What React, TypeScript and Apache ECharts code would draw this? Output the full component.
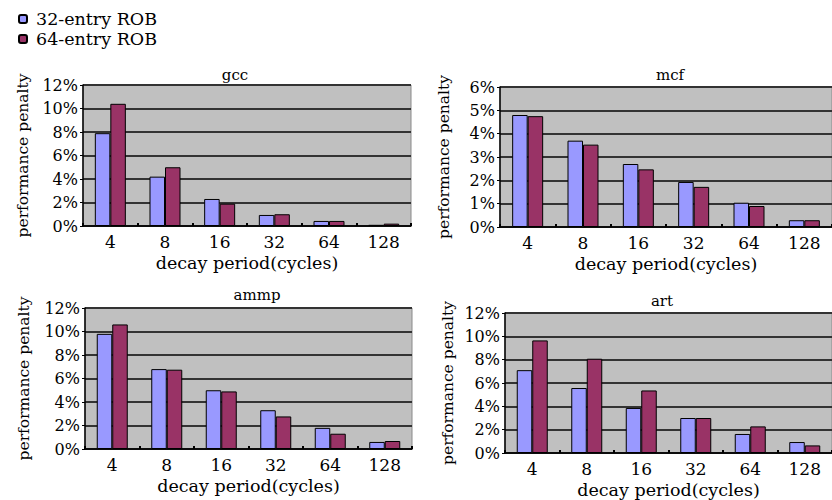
import React, { useEffect, useRef } from "react";
import * as echarts from "echarts";

const categories = ["4", "8", "16", "32", "64", "128"];
const seriesNames = ["32-entry ROB", "64-entry ROB"];
const titles = ["gcc", "mcf", "ammp", "art"];
const gcc32 = [7.9, 4.2, 2.3, 0.94, 0.43, 0.1];
const gcc64 = [10.4, 5.0, 1.9, 1.0, 0.43, 0.2];
const mcf32 = [4.8, 3.7, 2.7, 1.93, 1.04, 0.29];
const mcf64 = [4.75, 3.53, 2.47, 1.72, 0.9, 0.29];
const ammp32 = [9.8, 6.8, 5.0, 3.3, 1.8, 0.6];
const ammp64 = [10.6, 6.75, 4.9, 2.77, 1.3, 0.68];
const art32 = [7.1, 5.57, 3.86, 3.0, 1.63, 0.94];
const art64 = [9.65, 8.08, 5.36, 3.0, 2.28, 0.65];
const yMax = [12, 6, 12, 12];
const yStep = [2, 1, 2, 2];

const FONT = "DejaVu Serif";

export default function App() {
  const ref = useRef<HTMLDivElement>(null);
  useEffect(() => {
    if (!ref.current) return;
    const chart = echarts.init(ref.current, undefined, { renderer: "svg" });
    const grids = [
      { left: 83, top: 85, width: 328, height: 141 },
      { left: 500, top: 87, width: 340, height: 140 },
      { left: 85, top: 308, width: 327, height: 141 },
      { left: 505, top: 313, width: 332, height: 140 },
    ];
    const nameGaps = [52, 48, 53, 49];
    const titlePos = [
      [235, 75],
      [670, 75],
      [257, 295],
      [662, 301],
    ];
    const data32 = [gcc32, mcf32, ammp32, art32];
    const data64 = [gcc64, mcf64, ammp64, art64];
    const colors = ["#9999ff", "#993366"];

    const series: any[] = [];
    for (let i = 0; i < 4; i++) {
      [data32[i], data64[i]].forEach((d, k) => {
        series.push({
          type: "bar",
          name: seriesNames[k],
          xAxisIndex: i,
          yAxisIndex: i,
          data: d,
          barWidth: 15.5,
          barGap: "0%",
          itemStyle: { color: colors[k], borderColor: "#000", borderWidth: 1 },
        });
      });
    }

    chart.setOption({
      animation: false,
      backgroundColor: "#ffffff",
      textStyle: { fontFamily: FONT, color: "#000" },
      legend: {
        orient: "vertical",
        left: 13,
        top: 5,
        itemWidth: 8,
        itemHeight: 8,
        itemGap: 2,
        data: seriesNames,
        textStyle: { fontFamily: FONT, fontSize: 17.5, color: "#000", padding: [0, 0, 0, 4] },
      },
      grid: grids.map((g) => ({
        ...g,
        show: true,
        backgroundColor: "#c0c0c0",
        borderColor: "#8a8a8a",
        borderWidth: 1,
      })),
      xAxis: grids.map((_, i) => ({
        type: "category",
        gridIndex: i,
        data: categories,
        name: "decay period(cycles)",
        nameLocation: "middle",
        nameGap: 28,
        nameTextStyle: { fontFamily: FONT, fontSize: 17.5, color: "#000" },
        axisLine: { lineStyle: { color: "#000", width: 1.5 } },
        axisTick: { show: true, inside: true, length: 3, interval: 0, lineStyle: { color: "#000", width: 2 } },
        axisLabel: { fontFamily: FONT, fontSize: 17, color: "#000", margin: 7, interval: 0 },
        splitLine: { show: false },
      })),
      yAxis: grids.map((_, i) => ({
        type: "value",
        gridIndex: i,
        min: 0,
        max: yMax[i],
        interval: yStep[i],
        name: "performance penalty",
        nameLocation: "middle",
        nameGap: nameGaps[i],
        nameTextStyle: { fontFamily: FONT, fontSize: 15.5, color: "#000" },
        axisLine: { show: true, lineStyle: { color: "#000", width: 1.5 } },
        axisTick: { show: true, length: 3, lineStyle: { color: "#000" } },
        axisLabel: { fontFamily: FONT, fontSize: 16, color: "#000", margin: 5, formatter: "{value}%" },
        splitLine: { show: true, lineStyle: { color: "#333333", width: 2 } },
      })),
      graphic: titles.map((t, i) => ({
        type: "text",
        x: titlePos[i][0],
        y: titlePos[i][1],
        style: {
          text: t,
          fontFamily: FONT,
          fontSize: 15,
          fill: "#000",
          textAlign: "center",
          textVerticalAlign: "middle",
        },
      })),
      series,
    });
    return () => chart.dispose();
  }, []);
  return (
    <div
      ref={ref}
      style={{ position: "fixed", left: 0, top: 0, width: 832, height: 500 }}
    />
  );
}
